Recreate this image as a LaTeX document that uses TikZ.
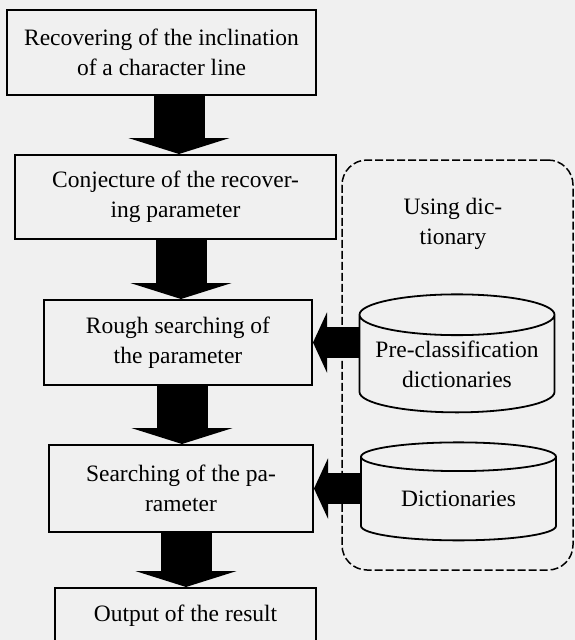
\documentclass[tikz,border=0pt]{standalone}
\usepackage{fontspec}
\setmainfont{Liberation Serif}
\usetikzlibrary{arrows.meta,shapes.geometric}

\begin{document}
\begin{tikzpicture}[x=1pt,y=-1pt,
  every node/.style={align=center,font=\fontsize{23.5}{30}\selectfont},
  procbox/.style={draw,line width=2pt,inner sep=0pt},
  dictbase/.style={draw,cylinder,shape border rotate=90,aspect=0.25,line width=1.8pt,inner sep=0pt,minimum width=195pt},
  bigarrow/.style={line width=51pt,-{Triangle[length=16pt,width=101pt]}},
  sidearrow/.style={line width=31pt,-{Triangle[length=14pt,width=60pt]}}]

%paper
  \useasboundingbox[fill=black!6] (0,0) rectangle (575,640);

%dictionary group
  \node[draw,dash pattern=on 8pt off 3pt,line width=1.5pt,rounded corners=25pt,
        minimum width=231pt,minimum height=410pt] (dictgroup) at (457.5,365) {};
  \node (usedict) at (453,224) {Using dic-\\tionary};
  \node[dictbase,minimum height=118pt] (precls) at (457,364) {Pre-classification\\dictionaries};
  \node[dictbase,minimum height=98pt] (dicts) at (458.5,499) {Dictionaries};

%process steps
  \node[procbox,minimum width=309pt,minimum height=85pt] (recover) at (161.5,52.5) {Recovering of the inclination\\of a character line};
  \node[procbox,minimum width=321pt,minimum height=84pt] (conject) at (175.5,197) {Conjecture of the recover-\\ing parameter};
  \node[procbox,minimum width=268pt,minimum height=85pt] (rough) at (178,342.5) {Rough searching of\\the parameter};
  \node[procbox,minimum width=264pt,minimum height=87pt] (search) at (181,488.5) {Searching of the pa-\\rameter};
  \node[procbox,minimum width=261pt,minimum height=56pt] (output) at (185.5,616) {Output of the result};

%draw flow arrows
  \foreach \from/\to/\x in {recover/conject/179, conject/rough/181, rough/search/182, search/output/186}
    \draw[bigarrow] (\x,0 |- \from.south) -- (\x,0 |- \to.north);

%draw dictionary arrows
  \draw[sidearrow] (precls.west |- rough.east) -- (rough.east);
  \draw[sidearrow] (dicts.west |- search.east) -- (search.east);

\end{tikzpicture}
\end{document}
